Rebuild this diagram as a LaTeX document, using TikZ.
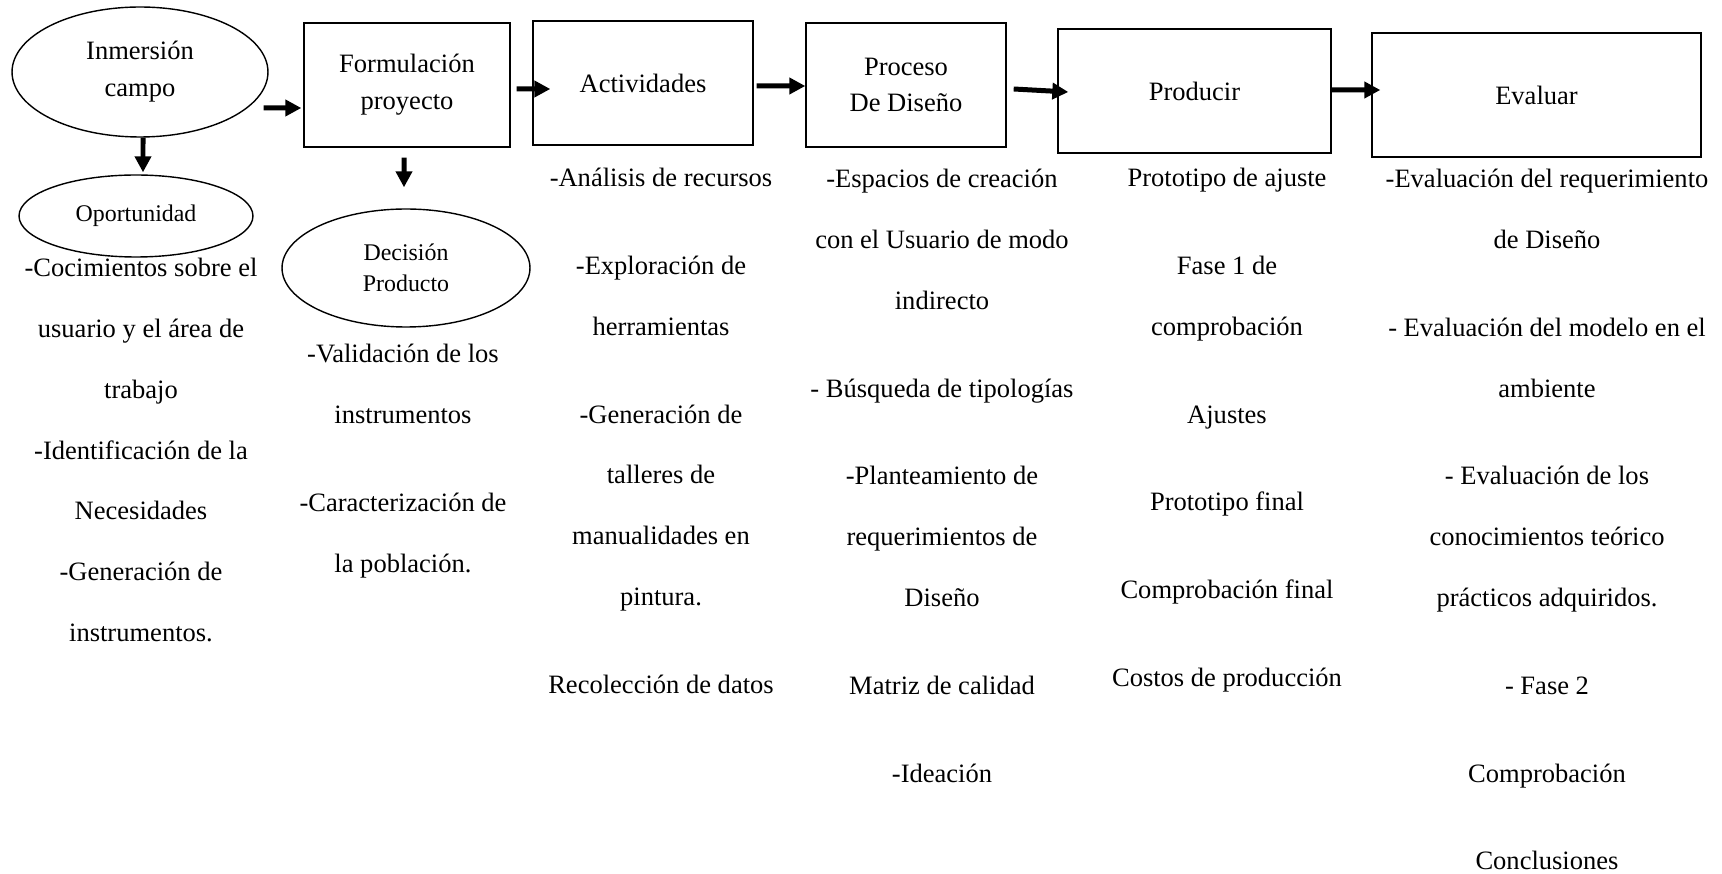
\documentclass[tikz,border=0pt]{standalone}
\usepackage{fontspec}
\setmainfont{Liberation Serif}
\usepackage{tikz}
\usetikzlibrary{shapes.geometric, positioning, arrows.meta}
\tikzset{
    caja/.style = {draw, line width=0.8pt, inner sep=0pt, minimum height=2.48cm, align=center, font=\fontsize{15.1}{21}\selectfont},
    elipse/.style = {draw, ellipse, line width=0.8pt, inner sep=0pt, align=center, font=\fontsize{15.1}{21}\selectfont},
    elipsechica/.style = {elipse, font=\fontsize{13.6}{17.6}\selectfont},
    lista/.style = {anchor=north, inner sep=0pt, align=center, font=\fontsize{15.1}{34.6}\selectfont},
    flecha/.style = {-{Triangle[length=0.32cm, width=0.32cm]}, line width=0.1cm},
}
\begin{document}
\begin{tikzpicture}[x=0.02cm, y=-0.02cm]
				\useasboundingbox (0, 0) rectangle (1722, 874);

				\node[elipse, minimum width=5.12cm, minimum height=2.6cm] (inm) at (140, 72) {Inmersión\\campo};
				\node[elipsechica, minimum width=4.68cm, minimum height=1.64cm] (opor) at (136, 216) {Oportunidad};
				\node[caja, minimum width=4.12cm] (form) at (407, 85) {Formulación\\proyecto};
				\node[elipsechica, minimum width=4.96cm, minimum height=2.36cm] (deci) at (406, 268) {Decisión\\Producto};
				\node[caja, minimum width=4.4cm] (acti) at (643, 83) {Actividades};
				\node[caja, minimum width=4.0cm] (proc) at (906, 85) {Proceso\\De Diseño};
				\node[caja, minimum width=5.46cm] (prod) at (1194.5, 91) {Producir};
				\node[caja, minimum width=6.58cm] (eval) at (1536.5, 95) {Evaluar};

				\node[lista] (l1) at (141, 258) {-Cocimientos sobre el\\usuario y el área de\\trabajo\\-Identificación de la\\Necesidades\\-Generación de\\instrumentos.};
				\node[lista] (l2) at (403, 344) {-Validación de los\\instrumentos\\[0.54cm]-Caracterización de\\la población.};
				\node[lista] (l3) at (661, 168) {-Análisis de recursos\\[0.54cm]-Exploración de\\herramientas\\[0.54cm]-Generación de\\talleres de\\manualidades en\\pintura.\\[0.54cm]Recolección de datos};
				\node[lista] (l4) at (942, 169) {-Espacios de creación\\con el Usuario de modo\\indirecto\\[0.54cm]- Búsqueda de tipologías\\[0.54cm]-Planteamiento de\\requerimientos de\\Diseño\\[0.54cm]Matriz de calidad\\[0.54cm]-Ideación};
				\node[lista] (l5) at (1227, 168) {Prototipo de ajuste\\[0.54cm]Fase 1 de\\comprobación\\[0.54cm]Ajustes\\[0.54cm]Prototipo final\\[0.54cm]Comprobación final\\[0.54cm]Costos de producción};
				\node[lista] (l6) at (1547, 169) {-Evaluación del requerimiento\\de Diseño\\[0.54cm]- Evaluación del modelo en el\\ambiente\\[0.54cm]- Evaluación de los\\conocimientos teórico\\prácticos adquiridos.\\[0.54cm]- Fase 2\\[0.54cm]Comprobación\\[0.54cm]Conclusiones};

				\draw[flecha] ([xshift=-0.1cm, yshift=-0.72cm]inm.east) -- ([xshift=-0.04cm, yshift=-0.46cm]form.west);
				\draw[flecha] ([xshift=0.12cm, yshift=-0.08cm]form.east) -- ([xshift=0.36cm, yshift=-0.12cm]acti.west);
				\draw[flecha] ([xshift=0.06cm, yshift=-0.06cm]acti.east) -- ([yshift=-0.02cm]proc.west);
				\draw[flecha] ([xshift=0.14cm, yshift=-0.08cm]proc.east) -- ([xshift=0.22cm, yshift=-0.02cm]prod.west);
				\draw[flecha] ([yshift=0.02cm]prod.east) -- ([xshift=0.18cm, yshift=0.1cm]eval.west);
				\draw[flecha] ([xshift=0.06cm]inm.south) -- ([xshift=0.14cm, yshift=0.04cm]opor.north);
				\draw[flecha] ([xshift=-0.06cm, yshift=-0.2cm]form.south) -- ([xshift=-0.04cm, yshift=0.42cm]deci.north);
			\end{tikzpicture}
\end{document}
